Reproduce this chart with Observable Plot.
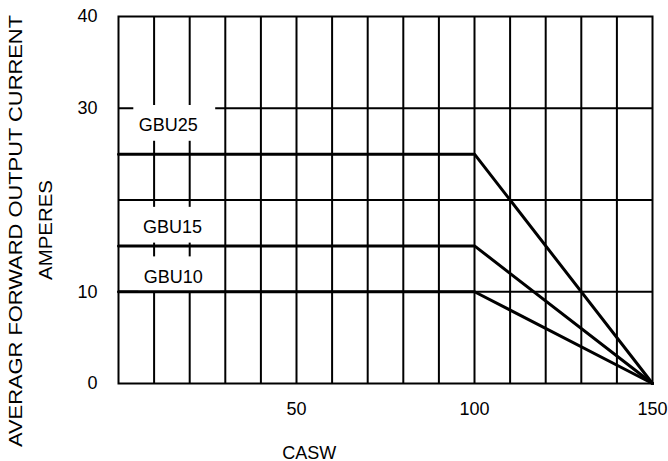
<!DOCTYPE html>
<html>
<head>
<meta charset="utf-8">
<script src="https://cdn.jsdelivr.net/npm/d3@7"></script>
<script src="https://cdn.jsdelivr.net/npm/@observablehq/plot@0.6"></script>
<style>
  html, body { margin: 0; padding: 0; background: #fff; }
  #chart { width: 668px; height: 461px; }
</style>
</head>
<body>
<div id="chart"></div>
<script>
// ---- data ----
const series = ["GBU25", "GBU15", "GBU10"];
const ratedCurrent = [25, 15, 10];           // A, flat portion
const kneeTemp = 100;                         // °C where derating starts
const maxTemp = 150;                          // °C where current reaches 0
const labelX = [14, 15.2, 15.4];
const labelY = [28.1, 17, 11.6];
const xTicks = [50, 100, 150];
const yTicks = [0, 10, 30, 40];
const xGrid = [10, 20, 30, 40, 50, 60, 70, 80, 90, 100, 110, 120, 130, 140];
const yGrid = [10, 20, 30];
const yTitle = ["AVERAGR FORWARD OUTPUT CURRENT", "AMPERES"];

const curves = series.flatMap((s, i) => [
  {s, x: 0, y: ratedCurrent[i]},
  {s, x: kneeTemp, y: ratedCurrent[i]},
  {s, x: maxTemp, y: 0}
]);
const labels = series.map((s, i) => ({s, x: labelX[i], y: labelY[i]}));

const font = "'Liberation Sans', Arial, Helvetica, sans-serif";

const chart = Plot.plot({
  width: 668,
  height: 461,
  marginLeft: 118,
  marginRight: 16,
  marginTop: 16,
  marginBottom: 78,
  style: {fontFamily: font, fontSize: "18px", color: "#000", background: "#fff"},
  x: {domain: [0, 150], ticks: xTicks, tickSize: 0, tickPadding: 19, label: null},
  y: {domain: [0, 40], ticks: yTicks, tickSize: 0, tickPadding: 21, label: null},
  marks: [
    Plot.ruleX(xGrid, {stroke: "#000", strokeWidth: 2}),
    Plot.ruleY(yGrid, {stroke: "#000", strokeWidth: 2}),
    Plot.rect(labels, {
      x1: d => d.x - 9.7, x2: d => d.x + 13.3,
      y1: d => d.y - 1.7, y2: d => d.y + 2.2,
      fill: "#fff"
    }),
    Plot.frame({stroke: "#000", strokeWidth: 2}),
    Plot.line(curves, {x: "x", y: "y", z: "s", stroke: "#000", strokeWidth: 3}),
    Plot.text(labels, {x: "x", y: "y", text: "s", fontSize: 18, fill: "#000"}),
    Plot.text(["CASW"], {x: () => 53.6, frameAnchor: "bottom", dy: 75, fontSize: 18, fill: "#000"}),
    Plot.text([yTitle[0]], {
      frameAnchor: "left", textAnchor: "middle", rotate: -90, dx: -102, dy: 31, fontSize: 18, fill: "#000"
    }),
    Plot.text([yTitle[1]], {
      frameAnchor: "left", textAnchor: "middle", rotate: -90, dx: -72, dy: 30, fontSize: 18, fill: "#000"
    })
  ]
});
// stretch the axis-title lines to the reference's lengths
const titleLengths = {[yTitle[0]]: 432, [yTitle[1]]: 100};
d3.select(chart).selectAll("text").each(function () {
  const t = this.textContent;
  if (t in titleLengths) {
    d3.select(this).attr("textLength", titleLengths[t]).attr("lengthAdjust", "spacingAndGlyphs");
  }
});
document.getElementById("chart").appendChild(chart);
</script>
</body>
</html>
